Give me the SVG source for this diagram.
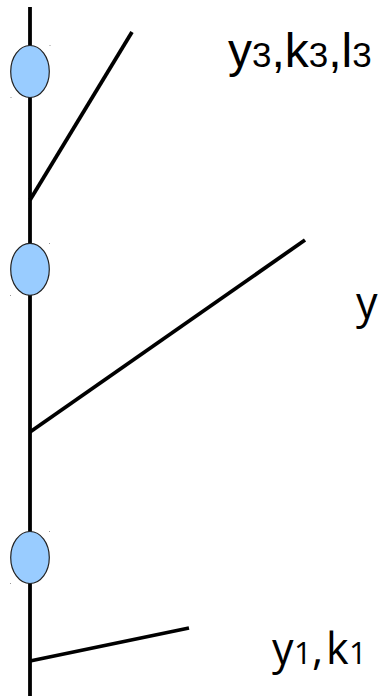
<svg xmlns="http://www.w3.org/2000/svg" width="378" height="696" viewBox="0 0 378 696">
<style>
.ln{stroke:#000;stroke-width:3.8;fill:none;stroke-linecap:butt}
.nd{fill:#99ccff;stroke:#222;stroke-width:1.2}
.dot{fill:#999}
.t1{font-family:"Liberation Sans",Arial,sans-serif;font-size:48px;fill:#000}
.t2{font-family:"Open Sans","Noto Sans",sans-serif;font-size:43px;fill:#000}
</style>
<rect width="378" height="696" fill="#fff"/>
<g id="connectors">
<line class="ln" x1="30" y1="7" x2="30" y2="696"/>
<line class="ln" x1="30" y1="200" x2="132" y2="32"/>
<line class="ln" x1="30" y1="432" x2="305" y2="240"/>
<line class="ln" x1="30" y1="661" x2="189" y2="628"/>
</g>
<g id="node1">
<ellipse class="nd" cx="30" cy="71.5" rx="19.3" ry="26"/>
<rect class="dot" x="49.5" y="45" width="1" height="1"/>
<rect class="dot" x="10.5" y="97" width="1" height="1"/>
</g>
<g id="node2">
<ellipse class="nd" cx="30" cy="269.3" rx="19.3" ry="26"/>
<rect class="dot" x="49" y="243" width="1" height="1"/>
<rect class="dot" x="10" y="295" width="1" height="1"/>
</g>
<g id="node3">
<ellipse class="nd" cx="30" cy="557.5" rx="19.3" ry="26"/>
<rect class="dot" x="49" y="531" width="1" height="1"/>
<rect class="dot" x="10" y="583" width="1" height="1"/>
</g>
<g id="label3">
<text class="t1" x="228" y="67">y<tspan font-size="35">3</tspan>,k<tspan font-size="35">3</tspan>,l<tspan font-size="35">3</tspan></text>
</g>
<g id="label2">
<text class="t2" x="356" y="318">y</text>
</g>
<g id="label1">
<text class="t2" x="272" y="664">y<tspan x="294" font-size="31">1</tspan><tspan x="312">,</tspan><tspan x="326">k</tspan><tspan x="349" font-size="31">1</tspan></text>
</g>
</svg>
